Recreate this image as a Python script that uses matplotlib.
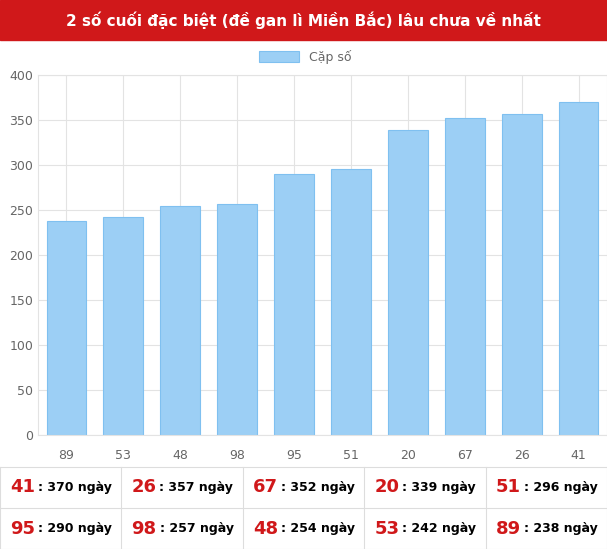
import matplotlib.pyplot as plt
from matplotlib.patches import Rectangle

labels = ["89", "53", "48", "98", "95", "51", "20", "67", "26", "41"]
values = [238, 242, 254, 257, 290, 296, 339, 352, 357, 370]
title = "2 số cuối đặc biệt (đề gan lì Miền Bắc) lâu chưa về nhất"

W, H = 607, 549
fig = plt.figure(figsize=(W / 100, H / 100), dpi=100)

# red header bar
fig.patches.append(Rectangle((0, 1 - 40 / H), 1, 40 / H, transform=fig.transFigure,
                             color="#d0181a", zorder=0))
fig.text(0.5, 1 - 20 / H, title, color="white", fontsize=11, fontweight="bold",
         ha="center", va="center")

ax = fig.add_axes([38 / W, 1 - 435 / H, 1 - 38 / W, 360 / H])
ax.bar(range(len(values)), values, width=0.7, color="#9ccff5", edgecolor="#7fc0f0", linewidth=0.8,
       label="Cặp số")
ax.set_xlim(-0.5, len(values) - 0.5)
ax.set_ylim(0, 400)
ax.set_yticks(range(0, 401, 50))
ax.set_xticks(range(len(values)))
ax.set_xticklabels(labels)
ax.tick_params(colors="#666666", labelsize=9, length=0)
ax.tick_params(axis="x", pad=10)
ax.grid(True, color="#e3e3e3", linewidth=0.8)
ax.set_axisbelow(True)
for s in ax.spines.values():
    s.set_color("#e3e3e3")
ax.legend(loc="lower center", bbox_to_anchor=(0.47, 1.0), frameon=False, fontsize=9,
          labelcolor="#666666", handlelength=3.2, handleheight=1.0)

# table of values, sorted descending
order = sorted(range(len(values)), key=lambda i: -values[i])
top, bot = 467, 549
rows = 2
cols = 5
cw = W / cols
rh = (bot - top) / rows
line_kw = dict(color="#dddddd", linewidth=0.8)
for r in range(rows + 1):
    y = 1 - (top + r * rh) / H
    fig.add_artist(plt.Line2D([0, 1], [y, y], transform=fig.transFigure, **line_kw))
for c in range(cols + 1):
    x = c * cw / W
    fig.add_artist(plt.Line2D([x, x], [1 - top / H, 1 - bot / H], transform=fig.transFigure, **line_kw))
for k, i in enumerate(order):
    r, c = divmod(k, cols)
    cx = (c * cw + 10) / W
    cy = 1 - (top + (r + 0.5) * rh) / H
    t = fig.text(cx, cy, labels[i], color="#d0181a", fontsize=13, fontweight="bold",
                 ha="left", va="center")
    fig.canvas.draw()
    bb = t.get_window_extent()
    fig.text(bb.x1 / W + 3 / W, cy, f": {values[i]} ngày", color="black", fontsize=9,
             fontweight="bold", ha="left", va="center")

fig.savefig("out.png", dpi=100)
